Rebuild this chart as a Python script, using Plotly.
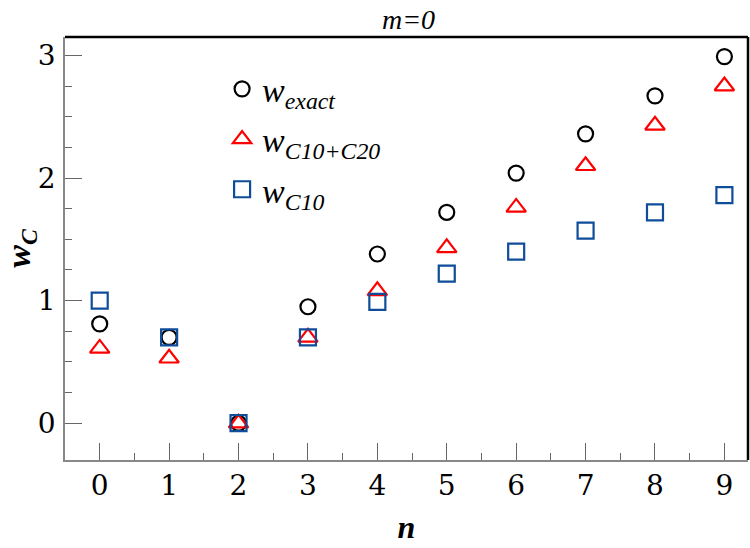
import plotly.graph_objects as go

n = [0, 1, 2, 3, 4, 5, 6, 7, 8, 9]
w_exact = [0.81, 0.70, 0.00, 0.95, 1.38, 1.72, 2.04, 2.36, 2.67, 2.99]
w_c10_c20 = [0.61, 0.53, 0.00, 0.70, 1.08, 1.43, 1.76, 2.10, 2.43, 2.75]
w_c10 = [1.00, 0.70, 0.00, 0.70, 0.99, 1.22, 1.40, 1.57, 1.72, 1.86]

names = ["<i>w</i><sub><i>exact</i></sub>",
         "<i>w</i><sub><i>C10+C20</i></sub>",
         "<i>w</i><sub><i>C10</i></sub>"]

SERIF = "DejaVu Serif"
TSERIF = "Liberation Serif"
fig = go.Figure()
fig.add_trace(go.Scatter(x=n, y=w_exact, mode="markers", name=names[0], legendgroup="a",
                         marker=dict(symbol="circle-open", size=15, color="black", line=dict(width=2.2, color="black"))))
fig.add_trace(go.Scatter(x=n, y=w_c10_c20, mode="markers", name=names[1], legendgroup="b",
                         marker=dict(symbol="triangle-up-open", size=17, color="#ff0000", line=dict(width=2.2, color="#ff0000"))))
fig.add_trace(go.Scatter(x=n, y=w_c10, mode="markers", name=names[2], legendgroup="c",
                         marker=dict(symbol="square-open", size=16, color="#0f4c99", line=dict(width=2.2, color="#0f4c99"))))

fig.update_layout(
    width=750, height=548,
    margin=dict(l=65, r=2, t=37, b=88),
    paper_bgcolor="white", plot_bgcolor="white",
    font=dict(family=SERIF, size=28, color="black"),
    showlegend=True,
    legend=dict(x=0.23, y=0.945, xanchor="left", yanchor="top", bgcolor="rgba(0,0,0,0)",
                font=dict(family=TSERIF, size=34), tracegroupgap=3, itemwidth=30),
    xaxis=dict(range=[-0.5, 9.34], tickmode="array", tickvals=n, ticktext=[str(v) for v in n],
               ticks="inside", ticklen=17, tickwidth=1.3, tickcolor="#666",
               minor=dict(tickmode="array", tickvals=[v + 0.5 for v in n], ticks="inside", ticklen=7, tickwidth=1.3, tickcolor="#666"),
               showline=True, linecolor="#888", linewidth=1.5, showgrid=False, zeroline=False,
               tickfont=dict(family=SERIF, size=28), ticklabelstandoff=0,
               title=dict(text="<b><i>n</i></b>", font=dict(family=TSERIF, size=32), standoff=14)),
    yaxis=dict(range=[-0.3, 3.15], tickmode="array", tickvals=[0, 1, 2, 3],
               ticks="inside", ticklen=17, tickwidth=1.3, tickcolor="#666",
               minor=dict(tickmode="array", tickvals=[0.25, 0.5, 0.75, 1.25, 1.5, 1.75, 2.25, 2.5, 2.75], ticks="inside", ticklen=7, tickwidth=1.3, tickcolor="#666"),
               showline=True, linecolor="#888", linewidth=1.5, showgrid=False, zeroline=False,
               tickfont=dict(family=SERIF, size=28), ticklabelstandoff=2,
               title=dict(text="<b><i>w</i></b><sub><b><i>C</i></b></sub>", font=dict(family=TSERIF, size=34), standoff=6)),
    annotations=[dict(text="<i>m=0</i>", xref="paper", yref="paper", x=0.503, y=1.0, xanchor="center",
                      yanchor="bottom", yshift=0, showarrow=False, font=dict(family=TSERIF, size=28, color="black"))],
)
fig.add_shape(type="line", xref="paper", yref="paper", x0=0, x1=1, y0=1, y1=1, line=dict(color="black", width=2.5))
fig.add_shape(type="line", xref="paper", yref="paper", x0=1, x1=1, y0=0, y1=1, line=dict(color="black", width=2.5))

fig.write_html("out.html")
